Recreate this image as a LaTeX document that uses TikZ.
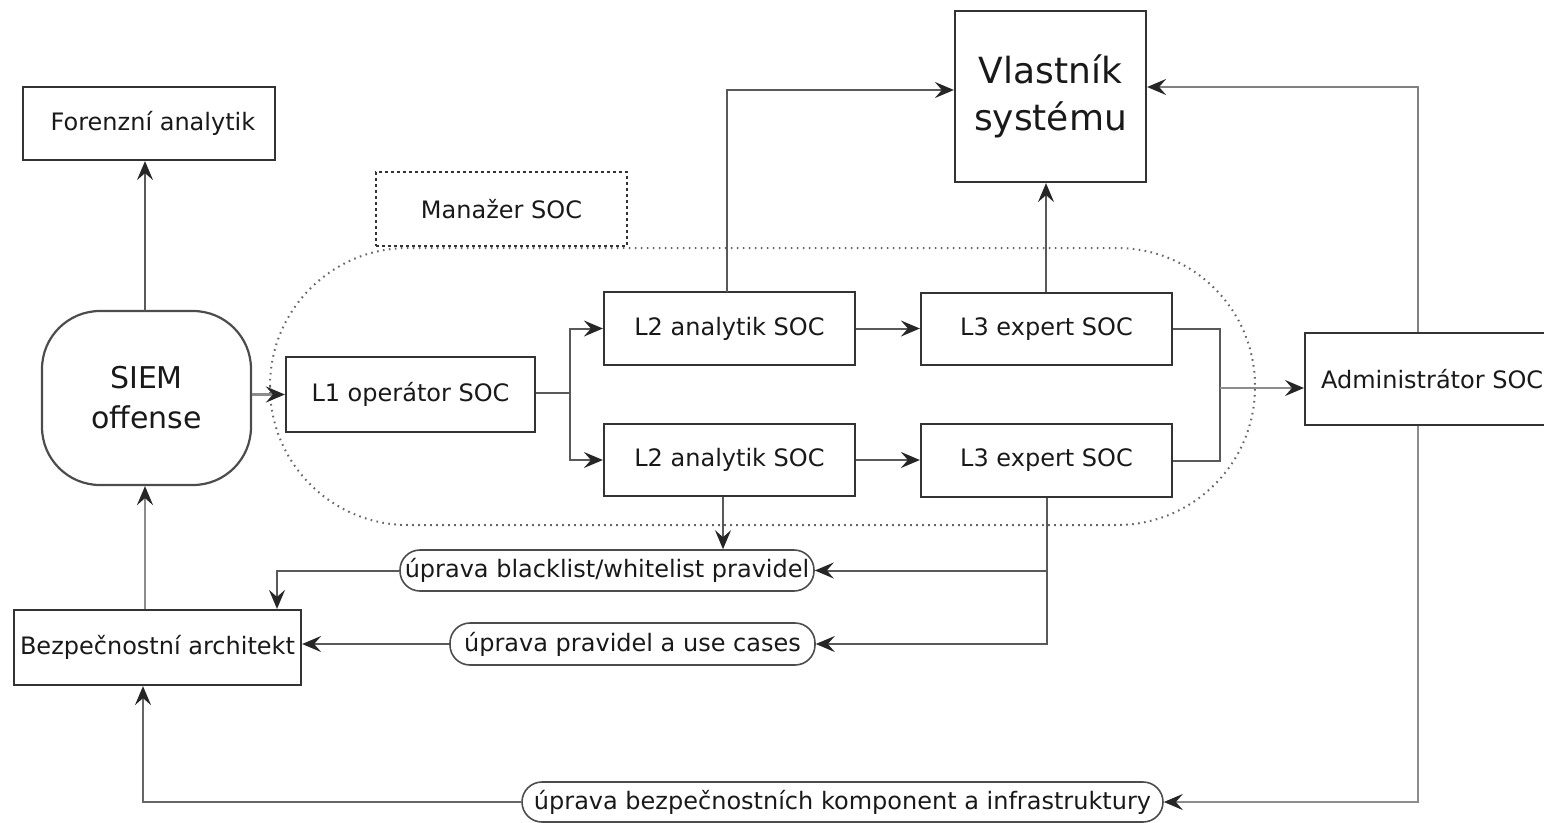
\documentclass[tikz,border=0pt]{standalone}
\usepackage{fontspec}
\setmainfont{DejaVu Sans}
\usetikzlibrary{arrows.meta}
\tikzset{
  box/.style={draw=black!80, line width=2.2pt, text=black!90, font=\fontsize{24}{28}\selectfont, inner sep=0pt},
  pill/.style={draw=black!70, line width=1.6pt, rounded corners=20pt, text=black!90,
    font=\fontsize{24}{28}\selectfont, inner sep=0pt},
  link/.style={draw=black!65, line width=2pt, -{Stealth[length=19pt,width=16pt,inset=7pt,color=black!85]}},
  plain/.style={draw=black!65, line width=2pt},
}
\begin{document}
\begin{tikzpicture}[x=1pt,y=-1pt]
\useasboundingbox (0,0) rectangle (1544,822);
\clip (0,0) rectangle (1544,822);

% SOC team boundary
\draw[black!60, line width=2pt, dash pattern=on 1.6pt off 4.4pt, rounded corners=138pt] (270,248) rectangle (1255,525);

% boxes
\node[box, minimum width=252pt, minimum height=73pt] (foren) at (149,123.5) {\hspace{8pt}Forenzní analytik};
\node[box, draw=black!70, rounded corners=58pt, minimum width=209pt, minimum height=174pt, align=center,
      font=\fontsize{30}{40}\selectfont] (siem) at (146.5,398) {SIEM\\offense};
\node[box, draw=black!80, line width=2.4pt, dash pattern=on 3pt off 3pt, minimum width=251pt, minimum height=74pt] (man) at (501.5,209) {Manažer SOC};
\node[box, minimum width=249pt, minimum height=75pt] (l1) at (410.5,394.5) {L1 operátor SOC};
\node[box, minimum width=251pt, minimum height=73pt] (l2a) at (729.5,328.5) {L2 analytik SOC};
\node[box, minimum width=251pt, minimum height=72pt] (l2b) at (729.5,460) {L2 analytik SOC};
\node[box, minimum width=251pt, minimum height=72pt] (l3a) at (1046.5,329) {L3 expert SOC};
\node[box, minimum width=251pt, minimum height=73pt] (l3b) at (1046.5,460.5) {L3 expert SOC};
\node[box, minimum width=191pt, minimum height=171pt, align=center,
      font=\fontsize{36}{47}\selectfont] (own) at (1050.5,96.5) {Vlastník\\systému};
\node[box, minimum width=254pt, minimum height=92pt, anchor=west] (adm) at (1304,379) {Administrátor SOC};
\node[box, minimum width=287pt, minimum height=75pt] (arch) at (157.5,647.5) {Bezpečnostní architekt};

% change-request labels
\node[pill, minimum width=414pt, minimum height=41pt] (bw) at (607,570.5) {úprava blacklist/whitelist pravidel};
\node[pill, minimum width=365pt, minimum height=42pt] (uc) at (632.5,644) {úprava pravidel a use cases};
\node[pill, minimum width=641pt, minimum height=40pt] (inf) at (842.5,802) {úprava bezpečnostních komponent a infrastruktury};

% junction points
\coordinate (split) at (570,393);
\coordinate (merge) at (1220,388);

% flows
\draw[link] (145,311) -- (foren.south -| 145,0);
\draw[link, draw=black!45, line width=2.6pt] (siem.east |- l1.west) -- (l1.west);
\draw[plain] (l1.east |- split) -- (split);
\draw[link] (split) |- (l2a.west);
\draw[link] (split) |- (l2b.west);
\draw[link] (l2a.east) -- (l3a.west |- l2a.east);
\draw[link] (l2b.east) -- (l3b.west |- l2b.east);
\draw[plain] (l3a.east) -| (merge) |- (l3b.east);
\draw[link, draw=black!45, line width=2.6pt] (merge) -- (merge -| adm.west);
\draw[link] (727,292) |- (own.west |- 0,90);
\draw[link] (l3a.north -| 1046,0) -- (own.south -| 1046,0);
\draw[link, draw=black!50] (adm.north -| 1418,0) |- (own.east |- 0,87);
\draw[link, draw=black!45, line width=2.6pt] (adm.south -| 1418,0) |- (inf.east);
\draw[link, draw=black!60] (inf.west) -| (arch.south -| 143,0);
\draw[link, draw=black!45, line width=2.6pt] (arch.north -| 145,0) -- (siem.south -| 145,0);
\draw[link] (l2b.south -| 723,0) -- (bw.north -| 723,0);
\draw[link] (l3b.south -| 1047,0) |- (bw.east);
\draw[link] (1047,560) |- (uc.east);
\draw[link] (bw.west) -| (arch.north -| 277,0);
\draw[link] (uc.west) -- (arch.east |- uc.west);
\end{tikzpicture}
\end{document}
